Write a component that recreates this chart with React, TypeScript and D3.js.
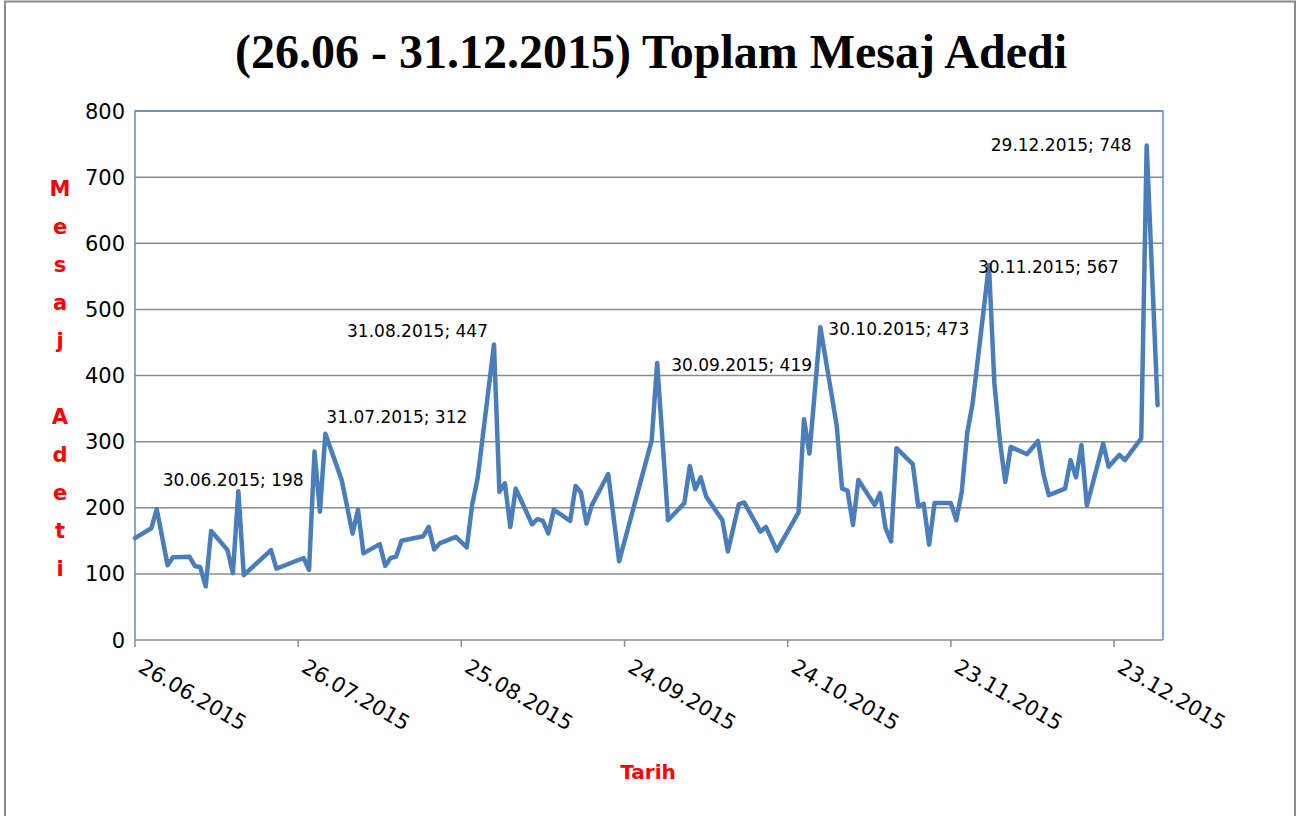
import React, { useEffect, useRef } from 'react';
import * as d3 from 'd3';

// daily message totals (only days that have a record)
const dates = [
  "26.06.2015", "29.06.2015", "30.06.2015", "02.07.2015", "03.07.2015", "06.07.2015", "07.07.2015",
  "08.07.2015", "09.07.2015", "10.07.2015", "13.07.2015", "14.07.2015", "15.07.2015", "16.07.2015",
  "21.07.2015", "22.07.2015", "27.07.2015", "28.07.2015", "29.07.2015", "30.07.2015", "31.07.2015",
  "03.08.2015", "05.08.2015", "06.08.2015", "07.08.2015", "10.08.2015", "11.08.2015", "12.08.2015",
  "13.08.2015", "14.08.2015", "18.08.2015", "19.08.2015", "20.08.2015", "21.08.2015", "24.08.2015",
  "26.08.2015", "27.08.2015", "28.08.2015", "31.08.2015", "01.09.2015", "02.09.2015", "03.09.2015",
  "04.09.2015", "07.09.2015", "08.09.2015", "09.09.2015", "10.09.2015", "11.09.2015", "14.09.2015",
  "15.09.2015", "16.09.2015", "17.09.2015", "18.09.2015", "21.09.2015", "23.09.2015", "29.09.2015",
  "30.09.2015", "02.10.2015", "05.10.2015", "06.10.2015", "07.10.2015", "08.10.2015", "09.10.2015",
  "12.10.2015", "13.10.2015", "15.10.2015", "16.10.2015", "19.10.2015", "20.10.2015", "22.10.2015",
  "26.10.2015", "27.10.2015", "28.10.2015", "30.10.2015", "02.11.2015", "03.11.2015", "04.11.2015",
  "05.11.2015", "06.11.2015", "09.11.2015", "10.11.2015", "11.11.2015", "12.11.2015", "13.11.2015",
  "16.11.2015", "17.11.2015", "18.11.2015", "19.11.2015", "20.11.2015", "23.11.2015", "24.11.2015",
  "25.11.2015", "26.11.2015", "27.11.2015", "30.11.2015", "01.12.2015", "02.12.2015", "03.12.2015",
  "04.12.2015", "07.12.2015", "09.12.2015", "10.12.2015", "11.12.2015", "14.12.2015", "15.12.2015",
  "16.12.2015", "17.12.2015", "18.12.2015", "21.12.2015", "22.12.2015", "24.12.2015", "25.12.2015",
  "28.12.2015", "29.12.2015", "31.12.2015",
];

const values = [
  154, 169, 198, 113, 125, 126, 112,
  110, 81, 165, 136, 101, 225, 98,
  136, 108, 124, 106, 285, 194, 312,
  242, 161, 197, 131, 145, 112, 124,
  126, 150, 157, 171, 137, 146, 156,
  140, 205, 245, 447, 224, 237, 171,
  229, 175, 183, 180, 161, 197, 180,
  233, 223, 176, 204, 251, 119, 302,
  419, 181, 207, 263, 228, 246, 217,
  181, 134, 205, 208, 164, 171, 135,
  193, 334, 282, 473, 325, 229, 226,
  174, 242, 204, 222, 169, 149, 290,
  266, 202, 206, 144, 207, 207, 181,
  224, 313, 358, 567, 388, 302, 239,
  292, 281, 301, 252, 219, 229, 272,
  246, 295, 203, 297, 262, 280, 272,
  305, 748, 355,
];

const tickDates = ["26.06.2015", "26.07.2015", "25.08.2015", "24.09.2015", "24.10.2015", "23.11.2015", "23.12.2015"];
const yTicks = [0, 100, 200, 300, 400, 500, 600, 700, 800];
const labelledDates = ["30.06.2015", "31.07.2015", "31.08.2015", "30.09.2015", "30.10.2015", "30.11.2015", "29.12.2015"];

const title = "(26.06 - 31.12.2015) Toplam Mesaj Adedi";
const yTitle = "Mesaj Adeti";
const xTitle = "Tarih";

const W = 1303, H = 816;
const plot = { left: 135, right: 1163, top: 111, bottom: 640 };
const sans = "'DejaVu Sans', sans-serif";

// where each callout sits relative to its point: [dx, dy, anchor]
const labelPlacement = {
  "30.06.2015": [6, -23, "start"],
  "31.07.2015": [1, -11, "start"],
  "31.08.2015": [-6, -7, "end"],
  "30.09.2015": [14, 8, "start"],
  "30.10.2015": [8, 8, "start"],
  "30.11.2015": [-11, 8, "start"],
  "29.12.2015": [-15, 6, "end"],
};

const App = () => {
  const ref = useRef(null);

  useEffect(() => {
    document.body.style.margin = "0";
    const parse = d3.utcParse("%d.%m.%Y");
    const fmt = d3.utcFormat("%d.%m.%Y");
    const data = dates.map((d, i) => ({ date: parse(d), value: values[i] }));

    const x = d3.scaleUtc()
      .domain([parse("26.06.2015"), parse("01.01.2016")])
      .range([plot.left, plot.right]);
    const y = d3.scaleLinear().domain([0, 800]).range([plot.bottom, plot.top]);

    const svg = d3.select(ref.current);
    svg.selectAll("*").remove();
    svg.attr("width", W).attr("height", H);

    svg.append("rect").attr("width", W).attr("height", H).attr("fill", "white");
    svg.append("rect")
      .attr("x", 5).attr("y", 1.5).attr("width", 1290).attr("height", 860)
      .attr("fill", "none").attr("stroke", "#8a8a8a").attr("stroke-width", 2);

    svg.append("text")
      .attr("x", 651).attr("y", 68)
      .attr("text-anchor", "middle")
      .attr("font-family", "'Liberation Serif', 'Times New Roman', serif")
      .attr("font-weight", "bold").attr("font-size", 48)
      .text(title);

    // gridlines
    svg.append("g").selectAll("line")
      .data(yTicks.filter(v => v > 0))
      .join("line")
      .attr("x1", plot.left).attr("x2", plot.right)
      .attr("y1", d => y(d)).attr("y2", d => y(d))
      .attr("stroke", "#8c8c8c").attr("stroke-width", 1.5);

    // plot border (left, top, right)
    svg.append("path")
      .attr("d", `M${plot.left},${plot.bottom}V${plot.top}H${plot.right}V${plot.bottom}`)
      .attr("fill", "none").attr("stroke", "#5f8fcc").attr("stroke-width", 1.5);

    // x axis
    svg.append("line")
      .attr("x1", plot.left).attr("x2", plot.right)
      .attr("y1", plot.bottom).attr("y2", plot.bottom)
      .attr("stroke", "#8c8c8c").attr("stroke-width", 1.5);
    const ticks = tickDates.map(parse);
    svg.append("g").selectAll("line")
      .data(ticks)
      .join("line")
      .attr("x1", d => x(d)).attr("x2", d => x(d))
      .attr("y1", plot.bottom).attr("y2", plot.bottom + 7)
      .attr("stroke", "#8c8c8c").attr("stroke-width", 1.5);
    svg.append("g").selectAll("text")
      .data(ticks)
      .join("text")
      .attr("transform", d => `translate(${x(d) + 2},${plot.bottom + 31}) rotate(30)`)
      .attr("font-family", sans).attr("font-size", 21).attr("fill", "#000")
      .text(d => fmt(d));

    // y axis labels
    svg.append("g").selectAll("text")
      .data(yTicks)
      .join("text")
      .attr("x", plot.left - 10).attr("y", d => y(d) + 7.5)
      .attr("text-anchor", "end")
      .attr("font-family", sans).attr("font-size", 21).attr("fill", "#000")
      .text(d => d);

    // y title, one letter per line
    svg.append("g").selectAll("text")
      .data(yTitle.split(""))
      .join("text")
      .attr("x", 60).attr("y", (d, i) => 196 + i * 38)
      .attr("text-anchor", "middle")
      .attr("font-family", sans).attr("font-weight", "bold").attr("font-size", 21)
      .attr("fill", "#ff0000")
      .text(d => d);

    svg.append("text")
      .attr("x", 648).attr("y", 779)
      .attr("text-anchor", "middle")
      .attr("font-family", sans).attr("font-weight", "bold").attr("font-size", 20)
      .attr("fill", "#ff0000")
      .text(xTitle);

    // series
    const line = d3.line().x(d => x(d.date)).y(d => y(d.value));
    svg.append("path")
      .datum(data)
      .attr("d", line)
      .attr("fill", "none")
      .attr("stroke", "#4a7ebb")
      .attr("stroke-width", 4.5)
      .attr("stroke-linejoin", "round")
      .attr("stroke-linecap", "round");

    // callouts
    const labelled = data.filter(d => labelledDates.includes(fmt(d.date)));
    svg.append("g").selectAll("text")
      .data(labelled)
      .join("text")
      .attr("x", d => x(d.date) + labelPlacement[fmt(d.date)][0])
      .attr("y", d => y(d.value) + labelPlacement[fmt(d.date)][1])
      .attr("text-anchor", d => labelPlacement[fmt(d.date)][2])
      .attr("font-family", sans).attr("font-size", 17).attr("fill", "#000")
      .text(d => `${fmt(d.date)}; ${d.value}`);
  }, []);

  return <svg ref={ref} style={{ display: "block" }} />;
};

export default App;
